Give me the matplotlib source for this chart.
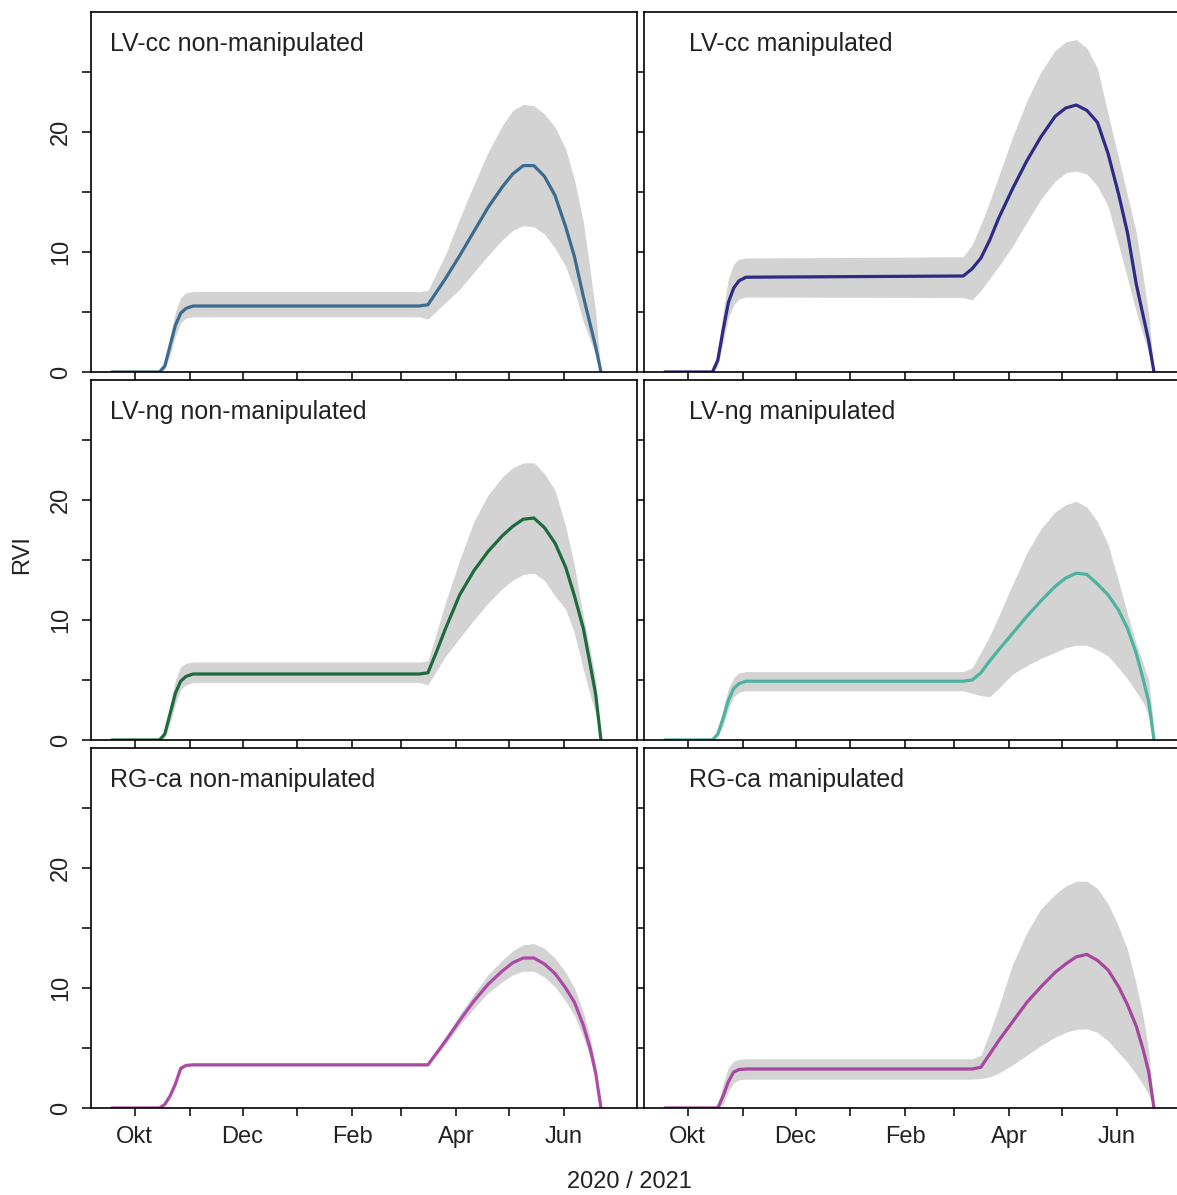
import numpy as np
import matplotlib
matplotlib.use("Agg")
import matplotlib.pyplot as plt
import matplotlib.dates as mdates

plt.rcParams['font.family'] = ['Liberation Sans', 'DejaVu Sans']

# --- data: days after 1 Oct 2020 ---
days = [-13, 14, 17, 20, 23, 26, 29, 33, 156, 161, 166, 171, 176, 184, 192, 200,
        208, 214, 220, 226, 232, 238, 244, 249, 254, 258, 261, 264]

lvcc_non_mean = [0, 0, 0.5, 2.2, 3.9, 4.9, 5.3, 5.5, 5.5, 5.5, 5.6, 6.7, 7.8, 9.7, 11.7, 13.7,
                 15.4, 16.5, 17.2, 17.2, 16.3, 14.7, 12.1, 9.6, 6.3, 3.9, 2.1, 0]
lvcc_non_lo = [0, 0, 0.2, 1.4, 3.0, 4.1, 4.5, 4.6, 4.6, 4.6, 4.4, 5.1, 5.8, 6.9, 8.3, 9.7,
               11.0, 11.8, 12.2, 12.1, 11.5, 10.3, 8.8, 6.8, 4.2, 2.6, 1.4, 0]
lvcc_non_hi = [0, 0, 0.8, 3.0, 5.0, 6.2, 6.6, 6.7, 6.7, 6.7, 6.8, 8.3, 9.8, 12.8, 15.6, 18.3,
               20.5, 21.8, 22.3, 22.2, 21.5, 20.4, 18.6, 16.0, 12.5, 8.3, 5.0, 0]

lvcc_man_mean = [0, 0, 1.0, 3.5, 5.8, 7.0, 7.6, 7.9, 8.0, 8.6, 9.5, 11.0, 12.8, 15.3, 17.6, 19.6,
                 21.3, 22.0, 22.25, 21.8, 20.8, 18.2, 14.8, 11.6, 7.3, 4.6, 2.6, 0]
lvcc_man_lo = [0, 0, 0.5, 2.5, 4.5, 5.6, 6.1, 6.25, 6.2, 6.0, 6.8, 7.8, 8.8, 10.5, 12.5, 14.4,
               15.9, 16.6, 16.75, 16.5, 15.5, 13.8, 10.6, 7.8, 5.0, 3.0, 1.6, 0]
lvcc_man_hi = [0, 0, 1.8, 5.0, 7.8, 9.0, 9.4, 9.5, 9.6, 10.6, 12.3, 14.2, 16.3, 19.6, 22.6, 25.0,
               26.8, 27.5, 27.7, 27.0, 25.3, 21.5, 17.8, 14.7, 11.6, 7.8, 4.8, 0]

lvng_non_mean = [0, 0, 0.5, 2.2, 3.9, 4.9, 5.3, 5.5, 5.5, 5.5, 5.6, 7.4, 9.3, 12.1, 14.1, 15.7,
                 17.0, 17.8, 18.4, 18.5, 17.7, 16.4, 14.4, 12.0, 9.3, 6.2, 3.8, 0]
lvng_non_lo = [0, 0, 0.2, 1.4, 3.0, 4.2, 4.6, 4.8, 4.8, 4.8, 4.6, 5.8, 7.0, 8.5, 10.0, 11.4,
               12.6, 13.3, 13.8, 13.9, 13.3, 12.0, 10.9, 8.9, 5.9, 3.7, 2.2, 0]
lvng_non_hi = [0, 0, 0.8, 3.0, 5.0, 6.1, 6.4, 6.5, 6.5, 6.5, 6.6, 9.0, 11.5, 15.0, 18.2, 20.4,
               21.9, 22.7, 23.1, 23.1, 22.2, 20.8, 17.8, 14.5, 10.3, 7.4, 5.0, 0]

lvng_man_mean = [0, 0, 0.5, 1.8, 3.3, 4.3, 4.7, 4.9, 4.9, 5.0, 5.6, 6.6, 7.5, 8.9, 10.3, 11.6,
                 12.8, 13.5, 13.9, 13.8, 13.0, 12.1, 10.8, 9.3, 7.2, 5.0, 3.2, 0]
lvng_man_lo = [0, 0, 0.3, 1.2, 2.6, 3.6, 4.0, 4.1, 4.1, 3.9, 3.7, 3.6, 4.3, 5.5, 6.2, 6.8,
               7.3, 7.7, 7.9, 7.9, 7.5, 7.0, 6.0, 5.1, 4.0, 3.1, 2.0, 0]
lvng_man_hi = [0, 0, 0.8, 2.6, 4.3, 5.2, 5.6, 5.7, 5.7, 6.0, 7.3, 8.7, 10.3, 13.0, 15.6, 17.6,
               19.0, 19.6, 19.9, 19.4, 18.2, 16.3, 13.2, 10.5, 8.0, 6.3, 5.0, 1.0]

rgca_non_mean = [0, 0, 0.3, 1.0, 2.0, 3.3, 3.55, 3.6, 3.6, 3.6, 3.6, 4.6, 5.6, 7.3, 8.9, 10.3,
                 11.4, 12.1, 12.5, 12.5, 12.0, 11.2, 10.0, 8.8, 6.9, 4.9, 2.9, 0]
rgca_non_lo = [0, 0, 0.2, 0.9, 1.9, 3.1, 3.45, 3.5, 3.5, 3.5, 3.5, 4.4, 5.3, 6.9, 8.3, 9.6,
               10.5, 11.1, 11.4, 11.4, 10.9, 10.1, 8.9, 7.7, 5.9, 4.1, 2.3, 0]
rgca_non_hi = [0, 0, 0.4, 1.1, 2.1, 3.5, 3.65, 3.7, 3.7, 3.7, 3.7, 4.8, 5.9, 7.8, 9.5, 11.1,
               12.3, 13.1, 13.6, 13.7, 13.3, 12.5, 11.3, 10.0, 8.0, 5.8, 3.6, 0]

rgca_man_mean = [0, 0, 0, 1.0, 2.2, 3.0, 3.2, 3.25, 3.25, 3.25, 3.4, 4.5, 5.6, 7.2, 8.8, 10.1,
                 11.3, 12.0, 12.6, 12.8, 12.3, 11.5, 10.1, 8.6, 6.8, 4.8, 3.0, 0]
rgca_man_lo = [0, 0, 0, 0.3, 1.4, 2.1, 2.35, 2.4, 2.4, 2.4, 2.45, 2.6, 2.9, 3.6, 4.4, 5.2,
               5.9, 6.3, 6.55, 6.6, 6.3, 5.6, 4.6, 3.8, 2.8, 1.9, 1.1, 0]
rgca_man_hi = [0, 0, 0.3, 2.0, 3.4, 3.9, 4.05, 4.1, 4.1, 4.1, 4.4, 6.3, 8.4, 12.0, 14.6, 16.6,
               17.8, 18.5, 18.9, 18.9, 18.3, 17.0, 15.1, 13.2, 10.3, 7.5, 4.8, 0]

titles = ["LV-cc non-manipulated", "LV-cc manipulated",
          "LV-ng non-manipulated", "LV-ng manipulated",
          "RG-ca non-manipulated", "RG-ca manipulated"]
colors = ["#3c6b90", "#2e2a86", "#1d6b3b", "#4cb3a1", "#ac4aa8", "#a6479f"]

month_ticks = ["2020-10-01", "2020-11-01", "2020-12-01", "2021-01-01", "2021-02-01",
               "2021-03-01", "2021-04-01", "2021-05-01", "2021-06-01"]
month_labels = ["Okt", "", "Dec", "", "Feb", "", "Apr", "", "Jun"]
y_ticks = [0, 5, 10, 15, 20, 25]
y_labels = ["0", "", "10", "", "20", ""]

panels = [
    (lvcc_non_mean, lvcc_non_lo, lvcc_non_hi),
    (lvcc_man_mean, lvcc_man_lo, lvcc_man_hi),
    (lvng_non_mean, lvng_non_lo, lvng_non_hi),
    (lvng_man_mean, lvng_man_lo, lvng_man_hi),
    (rgca_non_mean, rgca_non_lo, rgca_non_hi),
    (rgca_man_mean, rgca_man_lo, rgca_man_hi),
]

# --- figure ---
W, H = 1177, 1195
fig = plt.figure(figsize=(W / 100, H / 100), dpi=100)

origin = mdates.date2num(np.datetime64("2020-10-01"))
x = origin + np.array(days)
xticks = mdates.date2num(np.array(month_ticks, dtype="datetime64[D]"))

col_left = [91, 644]
pan_w = 546
row_top = [12, 380, 748]
pan_h = 360
txt = "#222222"

for i, (mean, lo, hi) in enumerate(panels):
    r, c = divmod(i, 2)
    ax = fig.add_axes([col_left[c] / W, 1 - (row_top[r] + pan_h) / H, pan_w / W, pan_h / H])
    ax.fill_between(x, lo, hi, color="#d3d3d3", lw=0)
    ax.plot(x, mean, color=colors[i], lw=2.3, solid_capstyle="round", solid_joinstyle="round")

    ax.set_xlim(origin - 24.8, origin + 284.4)
    ax.set_ylim(0, 30)
    for s in ax.spines.values():
        s.set_linewidth(1.2)

    ax.set_xticks(xticks)
    if r == 2:
        ax.set_xticklabels(month_labels, fontsize=17, color=txt)
    else:
        ax.set_xticklabels([""] * len(xticks))
    ax.tick_params(axis="x", direction="out", length=5.8, width=1.1, pad=7)

    ax.set_yticks(y_ticks)
    if c == 0:
        ax.set_yticklabels(y_labels, rotation=90, va="center", fontsize=17, color=txt)
        ax.tick_params(axis="y", direction="out", length=6.5, width=1.1, pad=7)
    else:
        ax.set_yticklabels([""] * len(y_ticks))
        ax.tick_params(axis="y", direction="out", length=5, width=1.1)

    tx = 0.035 if c == 0 else 0.082
    ax.text(tx, 1 - 32 / pan_h, titles[i], transform=ax.transAxes,
            fontsize=18, color=txt, va="center", ha="left")

fig.text(22 / W, 1 - 555 / H, "RVI", rotation=90, fontsize=17, color=txt,
         ha="center", va="center")
fig.text(629 / W, 1 - 1182 / H, "2020 / 2021", fontsize=17, color=txt,
         ha="center", va="center")

fig.savefig("out.png", dpi=100)
